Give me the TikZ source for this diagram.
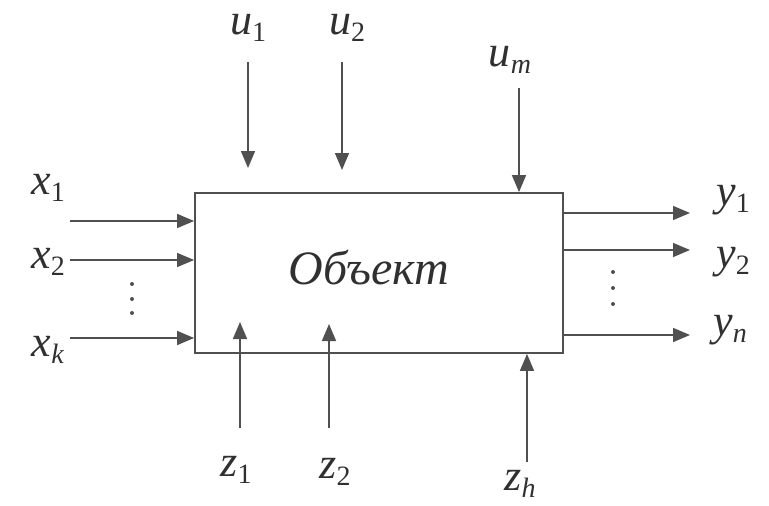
\documentclass[tikz,border=0pt]{standalone}
\usepackage{fontspec}
\setmainfont{Liberation Serif}
\usetikzlibrary{arrows.meta}
\definecolor{ln}{HTML}{505050}
\definecolor{tx}{HTML}{303030}
\newcommand\lbl[2]{\textit{#1}\raisebox{-0.35ex}{\fontsize{28}{30}\selectfont #2}}
\begin{document}
\begin{tikzpicture}[x=1pt,y=-1pt,
  arr/.style={draw=ln,line width=1.6pt,-{Triangle[length=17pt,width=14pt]}},
  lab/.style={text=tx,font=\fontsize{44}{46}\selectfont,inner sep=0pt},
  dotc/.style={fill=ln,circle,inner sep=0pt,minimum size=4pt}]
\useasboundingbox (0,0) rectangle (769,506);
\node[draw=ln,line width=1.8pt,minimum width=368pt,minimum height=160pt,inner sep=0pt] (obj) at (379,273) {};
\node[text=tx,font=\fontsize{48}{50}\selectfont\itshape,inner sep=0pt] (name) at (369,268) {Объект};
% inputs x
\coordinate (xs1) at (70,221);
\coordinate (xs2) at (70,260);
\coordinate (xsk) at (70,338);
\draw[arr] (xs1) -- (xs1 -| obj.west);
\draw[arr] (xs2) -- (xs2 -| obj.west);
\draw[arr] (xsk) -- (xsk -| obj.west);
\node[lab] (x1) at (48,188) {\lbl{x}{1}};
\node[lab] (x2) at (48,262) {\lbl{x}{2}};
\node[lab] (xk) at (48,350) {\lbl{x}{\textit{k}}};
\node[dotc] (dx1) at (132,284) {};
\node[dotc] (dx2) at (132,299) {};
\node[dotc] (dx3) at (132,313) {};
% outputs y
\coordinate (ye1) at (690,213);
\coordinate (ye2) at (690,250);
\coordinate (yen) at (690,335);
\draw[arr] (ye1 -| obj.east) -- (ye1);
\draw[arr] (ye2 -| obj.east) -- (ye2);
\draw[arr] (yen -| obj.east) -- (yen);
\node[lab] (y1) at (733,200) {\lbl{y}{1}};
\node[lab] (y2) at (733,262) {\lbl{y}{2}};
\node[lab] (yn) at (730,330) {\lbl{y}{\textit{n}}};
\node[dotc] (dy1) at (613,272) {};
\node[dotc] (dy2) at (613,288) {};
\node[dotc] (dy3) at (613,304) {};
% inputs u
\coordinate (us1) at (248,62);
\coordinate (ue1) at (248,168);
\coordinate (us2) at (342,62);
\coordinate (ue2) at (342,170);
\coordinate (usm) at (519,88);
\draw[arr] (us1) -- (ue1);
\draw[arr] (us2) -- (ue2);
\draw[arr] (usm) -- (usm |- obj.north);
\node[lab] (u1) at (248,28) {\lbl{u}{1}};
\node[lab] (u2) at (347,28) {\lbl{u}{2}};
\node[lab] (um) at (510,60) {\lbl{u}{\textit{m}}};
% disturbances z
\coordinate (zs1) at (240,428);
\coordinate (ze1) at (240,322);
\coordinate (zs2) at (329,428);
\coordinate (ze2) at (329,324);
\coordinate (zsh) at (527,462);
\draw[arr] (zs1) -- (ze1);
\draw[arr] (zs2) -- (ze2);
\draw[arr] (zsh) -- (zsh |- obj.south);
\node[lab] (z1) at (236,470) {\lbl{z}{1}};
\node[lab] (z2) at (335,472) {\lbl{z}{2}};
\node[lab] (zh) at (520,484) {\lbl{z}{\textit{h}}};
\end{tikzpicture}
\end{document}
